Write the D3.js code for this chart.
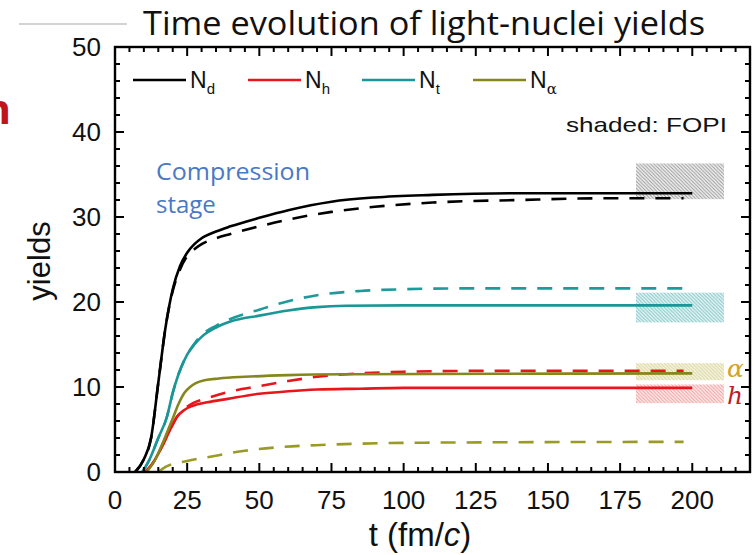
<!DOCTYPE html>
<html>
<head>
<meta charset="utf-8">
<script src="https://cdn.jsdelivr.net/npm/d3@7"></script>
<style>
  body { margin: 0; background: #fff; }
  svg { display: block; }
</style>
</head>
<body>
<div id="container"></div>
<script>
// ---- data ----
// deuteron (black)
const tDSolid = [7, 10, 12.5, 15, 17.5, 20, 22.5, 25, 27.5, 30, 35, 40, 50, 60, 75, 90, 110, 140, 170, 200];
const dSolid  = [0, 1.5, 4, 10.5, 17, 21.5, 24.2, 25.8, 26.8, 27.5, 28.3, 28.9, 29.9, 30.8, 31.8, 32.3, 32.6, 32.8, 32.8, 32.8];
const tDDash  = [7, 10, 12.5, 15, 17.5, 20, 22.5, 25, 27.5, 30, 35, 40, 50, 60, 75, 90, 110, 140, 170, 197];
const dDash   = [0, 1.5, 4, 10.5, 17, 21.3, 23.8, 25.4, 26.2, 26.8, 27.5, 28.0, 28.9, 29.7, 30.6, 31.2, 31.7, 32.0, 32.2, 32.2];
// triton (teal)
const tTSolid = [9.5, 12, 15, 18, 20, 22, 25, 27.5, 30, 35, 40, 50, 60, 70, 80, 100, 200];
const tSolid  = [0, 1.5, 4, 6.5, 9.3, 11.5, 13.8, 15, 15.9, 17, 17.7, 18.4, 19.0, 19.4, 19.55, 19.6, 19.6];
const tTDash  = [9.5, 12, 15, 18, 20, 22, 25, 27.5, 30, 35, 40, 50, 60, 70, 85, 100, 120, 197];
const tDashV  = [0, 1.5, 4, 6.5, 9.3, 11.5, 13.8, 15.1, 16.1, 17.2, 18.0, 19.1, 20.1, 20.8, 21.3, 21.5, 21.6, 21.6];
// helion (red)
const tHSolid = [10.5, 13, 16, 19, 21.5, 24, 27, 32, 39, 50, 60, 70, 85, 100, 200];
const hSolid  = [0, 1, 2.8, 4.9, 6.5, 7.3, 7.8, 8.2, 8.6, 9.2, 9.5, 9.7, 9.8, 9.9, 9.9];
const tHDash  = [10.5, 13, 16, 19, 21.5, 24, 27, 32, 39, 50, 60, 70, 85, 100, 130, 197];
const hDash   = [0, 1, 2.8, 4.9, 6.5, 7.4, 8.1, 8.7, 9.4, 10.1, 10.7, 11.2, 11.6, 11.8, 11.9, 11.9];
// alpha (olive)
const tASolid = [11, 14, 17, 20, 22, 24, 26, 28, 31, 36, 45, 60, 80, 200];
const aSolid  = [0, 1.5, 3.8, 6.3, 8.0, 9.3, 10.0, 10.45, 10.8, 11.0, 11.2, 11.4, 11.5, 11.6];
const tADash  = [15, 17.5, 25, 33, 45, 56, 73, 107, 197];
const aDash   = [0, 0.6, 1.3, 1.8, 2.5, 2.9, 3.2, 3.45, 3.55];

// FOPI bands
const fopiNames = ["d", "t", "alpha", "h"];
const fopiLow   = [32.1, 17.6, 10.8, 8.1];
const fopiHigh  = [36.3, 21.1, 12.8, 10.3];
const fopiT     = [180.5, 211];

const xTicks = [0, 25, 50, 75, 100, 125, 150, 175, 200];
const yTicks = [0, 10, 20, 30, 40, 50];

const legendNames = ["d", "h", "t", "\u03b1"];

// ---- colours ----
const col = { d: "#000000", h: "#e8161b", t: "#1b9696", alpha: "#85861c" };
const dashCol = { d: "#000000", h: "#e8161b", t: "#1f9a9a", alpha: "#9a9a28" };

let w = 755, h = 555;
let x = d3.scaleLinear().domain([0, 220]).range([115, 750]);
let y = d3.scaleLinear().domain([0, 50]).range([472, 47]);

let svg = d3.select("#container").append("svg")
  .attr("width", w).attr("height", h)
  .style("background-color", "#fff");

// hatch patterns
let defs = svg.append("defs");
const hatch = { d: ["#efefef", "#8a8a8a"], t: ["#e4f3f3", "#6cbcc0"], alpha: ["#f6f4e0", "#d2cd8c"], h: ["#fce8e8", "#f09090"] };
Object.keys(hatch).forEach(k => {
  let p = defs.append("pattern").attr("id", "hatch-" + k)
    .attr("patternUnits", "userSpaceOnUse").attr("width", 3.5).attr("height", 3.5);
  p.append("rect").attr("width", 3.5).attr("height", 3.5).attr("fill", hatch[k][0]);
  p.append("path").attr("d", "M-1,-1L4.5,4.5M-1,2.5L1,4.5M2.5,-1L4.5,1")
    .attr("stroke", hatch[k][1]).attr("stroke-width", 0.9);
});

// stray bits at the top-left of the slide
svg.append("line").attr("x1", 19).attr("x2", 127).attr("y1", 24).attr("y2", 24)
  .attr("stroke", "#c4c4c4").attr("stroke-width", 1.5);
svg.append("text").attr("x", 11).attr("y", 124).attr("text-anchor", "end")
  .attr("font-family", "Open Sans, sans-serif").attr("font-weight", "bold")
  .attr("font-size", 42).attr("fill", "#c0141c").text("n");

// title
svg.append("text").attr("x", 143).attr("y", 35)
  .attr("font-family", "Open Sans, sans-serif").attr("font-size", 32)
  .attr("textLength", 562).attr("lengthAdjust", "spacingAndGlyphs")
  .attr("fill", "#111").text("Time evolution of light-nuclei yields");

// shaded FOPI bands
fopiNames.forEach((k, i) => {
  svg.append("rect")
    .attr("x", x(fopiT[0])).attr("width", x(fopiT[1]) - x(fopiT[0]))
    .attr("y", y(fopiHigh[i])).attr("height", y(fopiLow[i]) - y(fopiHigh[i]))
    .attr("fill", "url(#hatch-" + k + ")").attr("opacity", 0.9);
});

// curves
let line = d3.line().x(d => x(d[0])).y(d => y(d[1])).curve(d3.curveMonotoneX);
const curves = [
  { t: tADash, v: aDash, c: dashCol.alpha, dash: true },
  { t: tHSolid, v: hSolid, c: col.h, dash: false },
  { t: tHDash, v: hDash, c: dashCol.h, dash: true },
  { t: tASolid, v: aSolid, c: col.alpha, dash: false },
  { t: tTDash, v: tDashV, c: dashCol.t, dash: true },
  { t: tTSolid, v: tSolid, c: col.t, dash: false },
  { t: tDDash, v: dDash, c: dashCol.d, dash: true },
  { t: tDSolid, v: dSolid, c: col.d, dash: false }
];
svg.append("g").selectAll("path")
  .data(curves)
  .join("path")
    .attr("d", s => line(s.t.map((tt, i) => [tt, s.v[i]])))
    .attr("fill", "none")
    .attr("stroke", s => s.c)
    .attr("stroke-width", 2.6)
    .attr("stroke-dasharray", s => s.dash ? "15,11" : null);

// frame and ticks (inside, on all four sides)
let frame = svg.append("g").attr("stroke", "#000");
frame.append("rect").attr("x", x(0)).attr("y", y(50))
  .attr("width", x(220) - x(0)).attr("height", y(0) - y(50))
  .attr("fill", "none").attr("stroke-width", 2.4);

let xMinor = d3.range(0, 221, 5);
let yMinor = d3.range(0, 51, 2);
xMinor.forEach(v => {
  let len = v % 25 === 0 ? 9 : 5;
  frame.append("line").attr("x1", x(v)).attr("x2", x(v)).attr("y1", y(0)).attr("y2", y(0) - len).attr("stroke-width", 2);
  frame.append("line").attr("x1", x(v)).attr("x2", x(v)).attr("y1", y(50)).attr("y2", y(50) + len).attr("stroke-width", 2);
});
yMinor.forEach(v => {
  let len = v % 10 === 0 ? 9 : 5;
  frame.append("line").attr("y1", y(v)).attr("y2", y(v)).attr("x1", x(0)).attr("x2", x(0) + len).attr("stroke-width", 2);
  frame.append("line").attr("y1", y(v)).attr("y2", y(v)).attr("x1", x(220)).attr("x2", x(220) - len).attr("stroke-width", 2);
});

// tick labels
const tickFont = "Liberation Sans, Arial, sans-serif";
svg.append("g").selectAll("text").data(xTicks).join("text")
  .attr("x", d => x(d)).attr("y", 509).attr("text-anchor", "middle")
  .attr("font-family", tickFont).attr("font-size", 26).attr("fill", "#111")
  .text(d => d);
svg.append("g").selectAll("text").data(yTicks).join("text")
  .attr("x", 101).attr("y", d => y(d) + 9).attr("text-anchor", "end")
  .attr("font-family", tickFont).attr("font-size", 26).attr("fill", "#111")
  .text(d => d);

// axis titles
svg.append("text").attr("transform", "translate(50,261) rotate(-90)")
  .attr("text-anchor", "middle").attr("font-family", tickFont).attr("font-size", 31)
  .attr("fill", "#111").text("yields");
let xl = svg.append("text").attr("x", 420).attr("y", 546).attr("text-anchor", "middle")
  .attr("font-family", tickFont).attr("font-size", 33).attr("fill", "#111");
xl.append("tspan").text("t (fm/");
xl.append("tspan").attr("font-style", "italic").text("c");
xl.append("tspan").text(")");

// legend
const legendX = [133, 248, 362, 473];
const legendCol = [col.d, col.h, col.t, col.alpha];
legendNames.forEach((n, i) => {
  svg.append("line").attr("x1", legendX[i]).attr("x2", legendX[i] + 53)
    .attr("y1", 80).attr("y2", 80).attr("stroke", legendCol[i]).attr("stroke-width", 2.4);
  let tx = svg.append("text").attr("x", legendX[i] + 57).attr("y", 88)
    .attr("font-family", tickFont).attr("font-size", 23).attr("fill", "#111");
  tx.append("tspan").text("N");
  tx.append("tspan").attr("font-size", 15).attr("dy", 6)
    .attr("font-family", n === "\u03b1" ? "DejaVu Serif, serif" : tickFont).text(n);
});

svg.append("text").attr("x", 566).attr("y", 132)
  .attr("font-family", tickFont).attr("font-size", 21).attr("fill", "#111")
  .attr("textLength", 161).attr("lengthAdjust", "spacingAndGlyphs")
  .text("shaded: FOPI");

// annotation
svg.append("text").attr("x", 156).attr("y", 180)
  .attr("font-family", "Open Sans, sans-serif").attr("font-size", 24).attr("fill", "#4a78c6")
  .attr("textLength", 154).attr("lengthAdjust", "spacingAndGlyphs")
  .text("Compression");
svg.append("text").attr("x", 156).attr("y", 213)
  .attr("font-family", "Open Sans, sans-serif").attr("font-size", 24).attr("fill", "#4a78c6")
  .text("stage");

// species labels
svg.append("text").attr("x", 727).attr("y", 377)
  .attr("font-family", "DejaVu Serif, serif").attr("font-style", "italic")
  .attr("font-size", 25).attr("fill", "#d4a32a").text("\u03b1");
svg.append("text").attr("x", 727).attr("y", 404)
  .attr("font-family", "DejaVu Serif, serif").attr("font-style", "italic")
  .attr("font-size", 25).attr("fill", "#c41a24").text("h");
</script>
</body>
</html>
